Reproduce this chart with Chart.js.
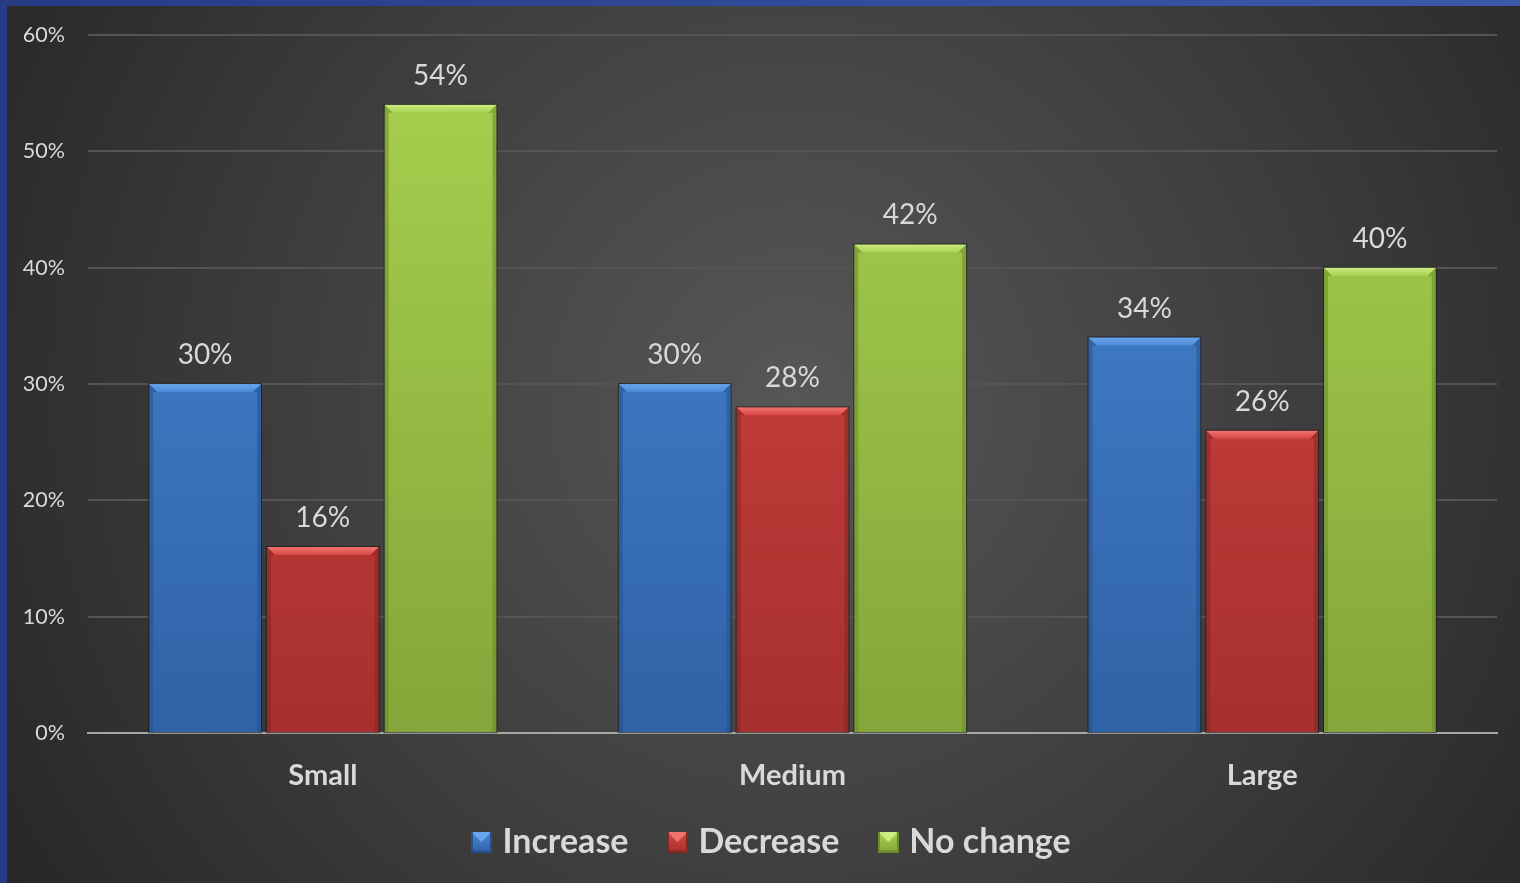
<!DOCTYPE html>
<html>
<head>
<meta charset="utf-8">
<title>Change by size</title>
<script src="https://cdn.jsdelivr.net/npm/chart.js@4.4.1/dist/chart.umd.min.js"></script>
<style>
  html, body {
    margin: 0;
    padding: 0;
    width: 1520px;
    height: 883px;
    overflow: hidden;
    background: linear-gradient(90deg, #263b84 0%, #2f4a98 50%, #3a5aa8 100%);
  }
  #wrap {
    position: absolute;
    left: 7px;
    top: 6px;
    width: 1513px;
    height: 877px;
  }
</style>
</head>
<body>
<div id="wrap"><canvas id="chart"></canvas></div>
<script>
const categories = ["Small", "Medium", "Large"];
const increase = [30, 30, 34];
const decrease = [16, 28, 26];
const noChange = [54, 42, 40];
const yTicks = [0, 10, 20, 30, 40, 50, 60];

const FONT = "Lato, 'DejaVu Sans', sans-serif";
const TEXT = "#d9d9d9";

// light / mid / dark shades per series
const shades = {
  blue: { light: "#6aa6ee", top: "#4a8ad8", bottom: "#2f62a6", edge: "#24508c" },
  red: { light: "#f07470", top: "#da4744", bottom: "#a6302e", edge: "#842624" },
  green: { light: "#cbec80", top: "#a8d24f", bottom: "#84a63a", edge: "#6a8a2c" },
};

function barFill(shade) {
  return (ctx) => {
    const area = ctx.chart.chartArea;
    if (!area) return shade.top;
    const g = ctx.chart.ctx.createLinearGradient(0, area.top, 0, area.bottom);
    g.addColorStop(0, shade.top);
    g.addColorStop(1, shade.bottom);
    return g;
  };
}

// small bevelled square for the legend
function legendBox(shade) {
  const c = document.createElement("canvas");
  c.width = 21;
  c.height = 21;
  const x = c.getContext("2d");
  const g = x.createLinearGradient(0, 0, 0, 21);
  g.addColorStop(0, shade.top);
  g.addColorStop(1, shade.bottom);
  x.fillStyle = g;
  x.fillRect(0, 0, 21, 21);
  x.fillStyle = shade.light;
  x.beginPath();
  x.moveTo(0, 0); x.lineTo(21, 0); x.lineTo(10.5, 10.5); x.closePath();
  x.fill();
  x.fillStyle = shade.edge;
  x.fillRect(0, 0, 2, 21);
  x.fillRect(19, 0, 2, 21);
  x.fillRect(0, 19, 21, 2);
  return c;
}

const background = {
  id: "background",
  beforeDraw(chart) {
    const { ctx, width, height } = chart;
    const g = ctx.createRadialGradient(width * 0.52, height * 0.45, 0, width * 0.52, height * 0.45, width * 0.62);
    g.addColorStop(0, "#575757");
    g.addColorStop(0.55, "#3d3d3d");
    g.addColorStop(1, "#262626");
    ctx.save();
    ctx.fillStyle = g;
    ctx.fillRect(0, 0, width, height);
    ctx.restore();
  },
};

// nudge the legend a little to the right
const legendShift = {
  id: "legendShift",
  afterLayout(chart) {
    if (!chart.legend) return;
    chart.legend.left += 22;
    chart.legend.right += 22;
  },
};

// bevelled edges on top of each bar
const bevel = {
  id: "bevel",
  afterDatasetsDraw(chart) {
    const { ctx } = chart;
    chart.data.datasets.forEach((ds, i) => {
      const shade = ds.shade;
      chart.getDatasetMeta(i).data.forEach((bar) => {
        const { x, y, base, width } = bar.getProps(["x", "y", "base", "width"], true);
        const l = x - width / 2, r = x + width / 2, b = 8, s = 4;
        ctx.save();
        // top face
        const tg = ctx.createLinearGradient(0, y, 0, y + b);
        tg.addColorStop(0, shade.light);
        tg.addColorStop(1, shade.top);
        ctx.fillStyle = tg;
        ctx.beginPath();
        ctx.moveTo(l, y); ctx.lineTo(r, y); ctx.lineTo(r - b, y + b); ctx.lineTo(l + b, y + b);
        ctx.closePath();
        ctx.fill();
        // side faces
        ctx.globalAlpha = 0.55;
        ctx.fillStyle = shade.edge;
        ctx.beginPath();
        ctx.moveTo(l, y); ctx.lineTo(l + b, y + b); ctx.lineTo(l + s, y + b); ctx.lineTo(l + s, base); ctx.lineTo(l, base);
        ctx.closePath();
        ctx.fill();
        ctx.beginPath();
        ctx.moveTo(r, y); ctx.lineTo(r - b, y + b); ctx.lineTo(r - s, y + b); ctx.lineTo(r - s, base); ctx.lineTo(r, base);
        ctx.closePath();
        ctx.fill();
        ctx.globalAlpha = 1;
        ctx.strokeStyle = "rgba(20,20,20,0.6)";
        ctx.lineWidth = 1;
        ctx.strokeRect(l - 0.5, y - 0.5, width + 1, base - y + 1);
        ctx.restore();
      });
    });
  },
};

// value labels above the bars
const valueLabels = {
  id: "valueLabels",
  afterDatasetsDraw(chart) {
    const { ctx } = chart;
    ctx.save();
    ctx.font = "28px " + FONT;
    ctx.fillStyle = TEXT;
    ctx.textAlign = "center";
    ctx.textBaseline = "bottom";
    chart.data.datasets.forEach((ds, i) => {
      chart.getDatasetMeta(i).data.forEach((bar, j) => {
        ctx.fillText(ds.data[j] + "%", bar.x, bar.y - 15);
      });
    });
    ctx.restore();
  },
};

function makeSet(label, data, shade) {
  return {
    label: label,
    data: data,
    shade: shade,
    backgroundColor: barFill(shade),
    borderWidth: 0,
    pointStyle: legendBox(shade),
    barPercentage: 0.95,
    categoryPercentage: 0.752,
  };
}

new Chart(document.getElementById("chart"), {
  type: "bar",
  data: {
    labels: categories,
    datasets: [
      makeSet("Increase", increase, shades.blue),
      makeSet("Decrease", decrease, shades.red),
      makeSet("No change", noChange, shades.green),
    ],
  },
  options: {
    responsive: true,
    maintainAspectRatio: false,
    animation: false,
    layout: { padding: { top: 29, right: 23, left: 0, bottom: 14 } },
    plugins: {
      tooltip: { enabled: false },
      legend: {
        position: "bottom",
        labels: {
          usePointStyle: true,
          color: TEXT,
          font: { family: FONT, size: 34, weight: "bold" },
          padding: 45,
          boxWidth: 8,
          boxHeight: 21,
        },
      },
    },
    scales: {
      x: {
        // labels keep their place, the legend may sit closer below them
        afterFit: (scale) => {
          scale.height -= 38;
          scale._computeLabelArea = () => undefined;
        },
        grid: { display: false, drawTicks: false },
        border: { display: true, color: "#a6a6a6", width: 2 },
        ticks: {
          color: TEXT,
          padding: 25,
          font: { family: FONT, size: 29, weight: "bold" },
        },
      },
      y: {
        min: 0,
        max: 60,
        afterFit: (scale) => {
          scale.width = 81;
          scale.paddingTop = 0;
          scale.paddingBottom = 0;
        },
        afterBuildTicks: (scale) => { scale.ticks = yTicks.map((v) => ({ value: v })); },
        grid: { color: "#545454", lineWidth: 2, drawTicks: false },
        border: { display: false },
        ticks: {
          color: TEXT,
          padding: 23,
          font: { family: FONT, size: 21.5 },
          callback: (v) => v + "%",
        },
      },
    },
  },
  plugins: [background, legendShift, bevel, valueLabels],
});
</script>
</body>
</html>
